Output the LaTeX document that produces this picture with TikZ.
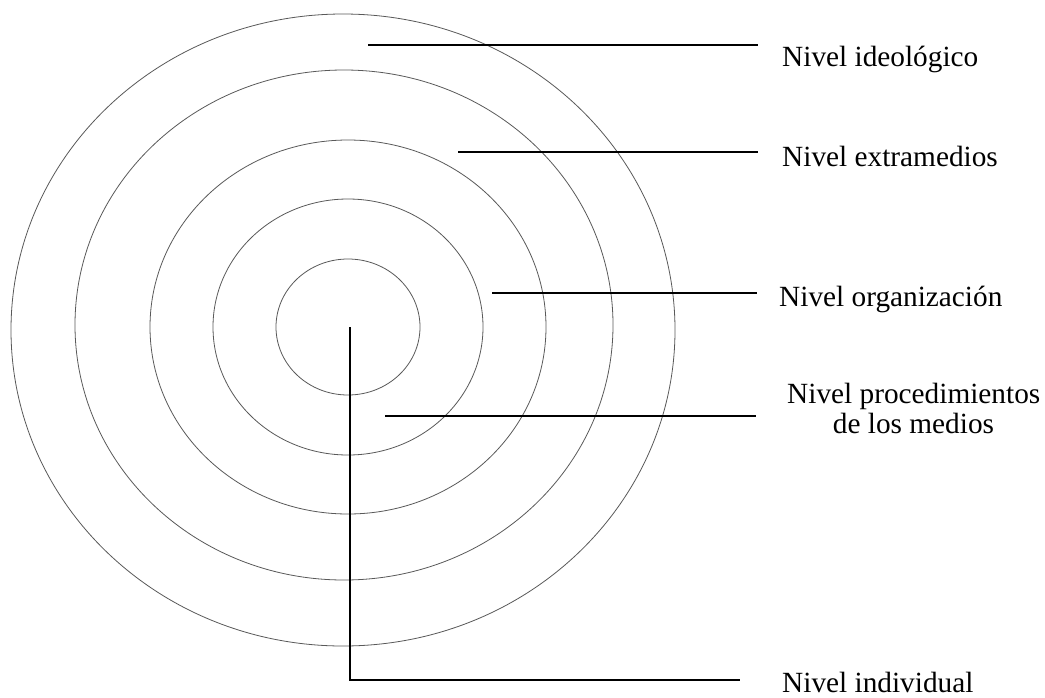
\documentclass[tikz,border=0pt]{standalone}
\usepackage{fontspec}
\setmainfont{Liberation Serif}
\begin{document}
\begin{tikzpicture}[x=1pt,y=-1pt,
  ring/.style={draw=black!65, line width=0.8pt},
  leader/.style={draw=black, line width=1.8pt},
  lab/.style={anchor=base west, inner sep=0pt, font=\fontsize{29.3}{27}\selectfont}]
\useasboundingbox (0,0) rectangle (1045,697);
\fill[white] (0,0) rectangle (1045,697);
% concentric rings
\draw[ring] (343,330) ellipse [x radius=332, y radius=316];
\draw[ring] (344,325) ellipse [x radius=269, y radius=255];
\draw[ring] (348,327) ellipse [x radius=198, y radius=187];
\draw[ring] (348,327) ellipse [x radius=135, y radius=128];
\draw[ring] (348,327) ellipse [x radius=72, y radius=68];
% labels
\node[lab] (ideo) at (782,66) {Nivel ideológico};
\node[lab] (extra) at (782,166) {Nivel extramedios};
\node[lab] (orga) at (779,306) {Nivel organización};
\node[lab] (proc) at (787,403) {Nivel procedimientos};
\node[lab, anchor=base] (proc2) at (913.5,433) {de los medios};
\node[lab] (indi) at (782,692) {Nivel individual};
% leader coordinates
\coordinate (a1) at (368,45);  \coordinate (b1) at (758,45);
\coordinate (a2) at (458,152); \coordinate (b2) at (758,152);
\coordinate (a3) at (492,293); \coordinate (b3) at (757,293);
\coordinate (a4) at (385,416); \coordinate (b4) at (756,416);
\coordinate (a5) at (350,327); \coordinate (k5) at (350,680); \coordinate (b5) at (740,680);
\draw[leader] (a1) -- (b1);
\draw[leader] (a2) -- (b2);
\draw[leader] (a3) -- (b3);
\draw[leader] (a4) -- (b4);
\draw[leader] (a5) -- (k5) -- (b5);
\end{tikzpicture}
\end{document}
